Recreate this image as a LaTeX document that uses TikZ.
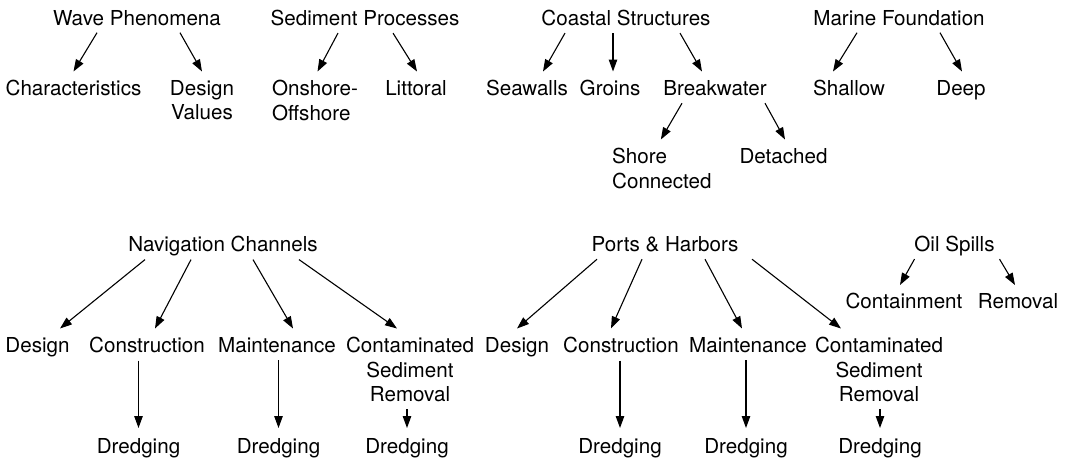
\documentclass[tikz,border=0pt]{standalone}
\usepackage{fontspec}
\setmainfont{TeX Gyre Heros}
\usetikzlibrary{arrows.meta, calc, positioning}
\tikzset{
  topic/.style  = {inner sep=0pt, anchor=north, align=center,
                   font=\fontsize{20.6pt}{24.5pt}\selectfont},
  ltopic/.style = {topic, anchor=north west, align=left},
  link/.style   = {-{Triangle[length=12pt, width=8.5pt]}, line width=1.1pt, black},
}

\begin{document}
\begin{tikzpicture}[x=1pt, y=-1pt]
\useasboundingbox (0,0) rectangle (1067,461);
% upper row: four topic trees
\node[topic]  (wave)       at (137,10)   {Wave Phenomena};
\node[topic]  (waveChar)   at (73.5,80)  {Characteristics};
\node[topic]  (waveDesign) at (202,80)   {Design\\Values};
\node[topic]  (sed)        at (365,10)   {Sediment Processes};
\node[ltopic] (sedOn)      at (272,80)   {Onshore-\\Offshore};
\node[topic]  (sedLit)     at (416,80)   {Littoral};
\node[topic]  (coast)      at (626,10)   {Coastal Structures};
\node[topic]  (coastSea)   at (527,80)   {Seawalls};
\node[topic]  (coastGroin) at (610,80)   {Groins};
\node[topic]  (coastBreak) at (715,80)   {Breakwater};
\node[ltopic] (breakShore) at (612,148)  {Shore\\Connected};
\node[topic]  (breakDet)   at (783.5,148) {Detached};
\node[topic]  (marine)     at (899,10)   {Marine Foundation};
\node[topic]  (marShallow) at (849,80)   {Shallow};
\node[topic]  (marDeep)    at (961,80)   {Deep};

\draw[link] ($(wave.base)+(-40,7.5)$)  -- ($(waveChar.north)+(0,-8.5)$);
\draw[link] ($(wave.base)+(43,7.5)$)   -- ($(waveDesign.north)+(0,-8.5)$);
\draw[link] ($(sed.base)+(-27,7.5)$)   -- ($(sedOn.north)+(2.5,-8.5)$);
\draw[link] ($(sed.base)+(28,7.5)$)    -- ($(sedLit.north)+(1,-8.5)$);
\draw[link] ($(coast.base)+(-61,7.5)$) -- ($(coastSea.north)+(16,-8.5)$);
\draw[link] ($(coast.base)+(-13,7.5)$) -- ($(coastGroin.north)+(3,-8.5)$);
\draw[link] ($(coast.base)+(54,7.5)$)  -- ($(coastBreak.north)+(-13,-8.5)$);
\draw[link] ($(coastBreak.base)+(-33,8)$) -- ($(breakShore.north)+(-1,-8.5)$);
\draw[link] ($(coastBreak.base)+(50,8)$)  -- ($(breakDet.north)+(1.5,-8.5)$);
\draw[link] ($(marine.base)+(-42,7.5)$) -- ($(marShallow.north)+(-16,-8.5)$);
\draw[link] ($(marine.base)+(41,7.5)$)  -- ($(marDeep.north)+(1,-8.5)$);

% lower row: navigation channels
\node[topic] (nav)       at (223,236)  {Navigation Channels};
\node[topic] (navDesign) at (37.5,337) {Design};
\node[topic] (navConstr) at (147,337)  {Construction};
\node[topic] (navMaint)  at (277,337)  {Maintenance};
\node[topic] (navCont)   at (410,337)  {Contaminated\\Sediment\\Removal};
\node[topic] (navDr1)    at (138.5,438) {Dredging};
\node[topic] (navDr2)    at (278.5,438) {Dredging};
\node[topic] (navDr3)    at (407,438)  {Dredging};

\draw[link] ($(nav.base)+(-78,8)$) -- ($(navDesign.north)+(22.5,-8.5)$);
\draw[link] ($(nav.base)+(-32,8)$) -- ($(navConstr.north)+(8,-8.5)$);
\draw[link] ($(nav.base)+(30,8)$)  -- ($(navMaint.north)+(16,-8.5)$);
\draw[link] ($(nav.base)+(76,8)$)  -- ($(navCont.north)+(-13,-8.5)$);
\draw[link] ($(navDr1.north |- navConstr.base)+(0,8)$) -- ($(navDr1.north)+(0,-10)$);
\draw[link] ($(navDr2.north |- navMaint.base)+(0,8)$)  -- ($(navDr2.north)+(0,-10)$);
\draw[link] ($(navDr3.north |- navCont.south)+(0,7)$)  -- ($(navDr3.north)+(0,-10)$);

% lower row: ports & harbors
\node[topic] (port)       at (665,236) {Ports \& Harbors};
\node[topic] (portDesign) at (517,337) {Design};
\node[topic] (portConstr) at (621,337) {Construction};
\node[topic] (portMaint)  at (748,337) {Maintenance};
\node[topic] (portCont)   at (879,337) {Contaminated\\Sediment\\Removal};
\node[topic] (portDr1)    at (620,438) {Dredging};
\node[topic] (portDr2)    at (746,438) {Dredging};
\node[topic] (portDr3)    at (880,438) {Dredging};

\draw[link] ($(port.base)+(-68,8)$) -- ($(portDesign.north)+(0,-8.5)$);
\draw[link] ($(port.base)+(-23,8)$) -- ($(portConstr.north)+(-10,-8.5)$);
\draw[link] ($(port.base)+(40,8)$)  -- ($(portMaint.north)+(-6,-8.5)$);
\draw[link] ($(port.base)+(87,8)$)  -- ($(portCont.north)+(-38,-8.5)$);
\draw[link] ($(portDr1.north |- portConstr.base)+(0,8)$) -- ($(portDr1.north)+(0,-10)$);
\draw[link] ($(portDr2.north |- portMaint.base)+(0,8)$)  -- ($(portDr2.north)+(0,-10)$);
\draw[link] ($(portDr3.north |- portCont.south)+(0,7)$)  -- ($(portDr3.north)+(0,-10)$);

% oil spills
\node[topic] (oil)     at (954.5,236) {Oil Spills};
\node[topic] (oilCont) at (904,293)   {Containment};
\node[topic] (oilRem)  at (1018,293)  {Removal};

\draw[link] ($(oil.base)+(-40,7.5)$) -- ($(oilCont.north)+(-4,-8)$);
\draw[link] ($(oil.base)+(45,7.5)$)  -- ($(oilRem.north)+(-3,-8)$);
\end{tikzpicture}
\end{document}
